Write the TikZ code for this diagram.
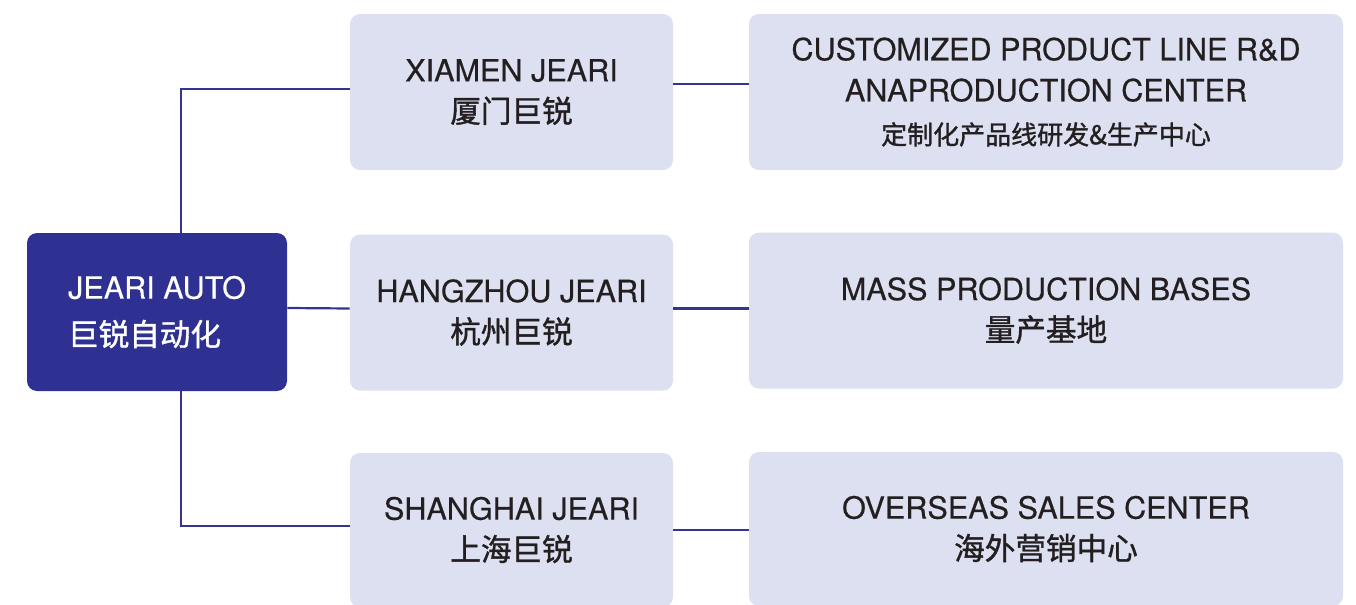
\documentclass[tikz,border=0pt]{standalone}
\usepackage{fontspec}
\setmainfont{TeX Gyre Heros}[FakeBold=0.4]
\newfontfamily\cjk{Noto Sans CJK SC}[FakeBold=1.2]
\definecolor{jeariblue}{HTML}{2E3192}
\definecolor{boxfill}{HTML}{DCE0F0}
\definecolor{linkblue}{HTML}{34358E}
\definecolor{inkgray}{HTML}{231F20}
\tikzset{
  box/.style    = {shape=rectangle, rounded corners=5pt,
                   align=center, fill=boxfill, text=inkgray,
                   font=\fontsize{15.3}{20.5}\selectfont},
  root/.style   = {box, fill=jeariblue, text=white, align=left,
                   minimum width=130pt, minimum height=79pt},
  branch/.style = {box, minimum width=161.5pt, minimum height=78pt},
  leaf/.style   = {box, minimum width=297pt, minimum height=78pt},
  link/.style   = {draw=linkblue, line width=1.1pt}
}

\begin{document}
\begin{tikzpicture}[x=0.5pt,y=-0.5pt]
  \useasboundingbox (0,0) rectangle (1356,605);
  \clip (0,0) rectangle (1356,605);

  \node [root] (auto) at (157,312) {JEARI AUTO\\[3pt]{\cjk 巨锐自动化}};

  % branches
  \node [branch] (xiamen)   at (511.5,92)    {XIAMEN JEARI\\{\cjk 厦门巨锐}};
  \node [branch] (hangzhou) at (511.5,312.5) {HANGZHOU JEARI\\{\cjk 杭州巨锐}};
  \node [branch, minimum height=77pt] (shanghai) at (511.5,530) {SHANGHAI JEARI\\{\cjk 上海巨锐}};

  % leaves
  \node [leaf] (rnd)  at (1046,92)
    {CUSTOMIZED PRODUCT LINE R\&D\\ANAPRODUCTION CENTER\\[1pt]{\cjk\fontsize{13}{20.5}\selectfont 定制化产品线研发\&生产中心}};
  \node [leaf] (mass) at (1046,310.5) {MASS PRODUCTION BASES\\{\cjk 量产基地}};
  \node [leaf, minimum height=77pt] (sales) at (1046,529) {OVERSEAS SALES CENTER\\{\cjk 海外营销中心}};

  \draw [link] ([xshift=12pt]auto.north) |- ([yshift=1.5pt]xiamen.west);
  \draw [link] ([yshift=2pt]auto.east) -- ([yshift=2pt]hangzhou.west);
  \draw [link] ([xshift=12pt]auto.south) |- ([yshift=2pt]shanghai.west);

  \draw [link] ([yshift=4pt]xiamen.east) -- ([yshift=4pt]xiamen.east -| rnd.west);
  \draw [link] ([yshift=2pt]hangzhou.east) -- ([yshift=2pt]hangzhou.east -| mass.west);
  \draw [link] (shanghai.east) -- (shanghai.east -| sales.west);
\end{tikzpicture}
\end{document}
